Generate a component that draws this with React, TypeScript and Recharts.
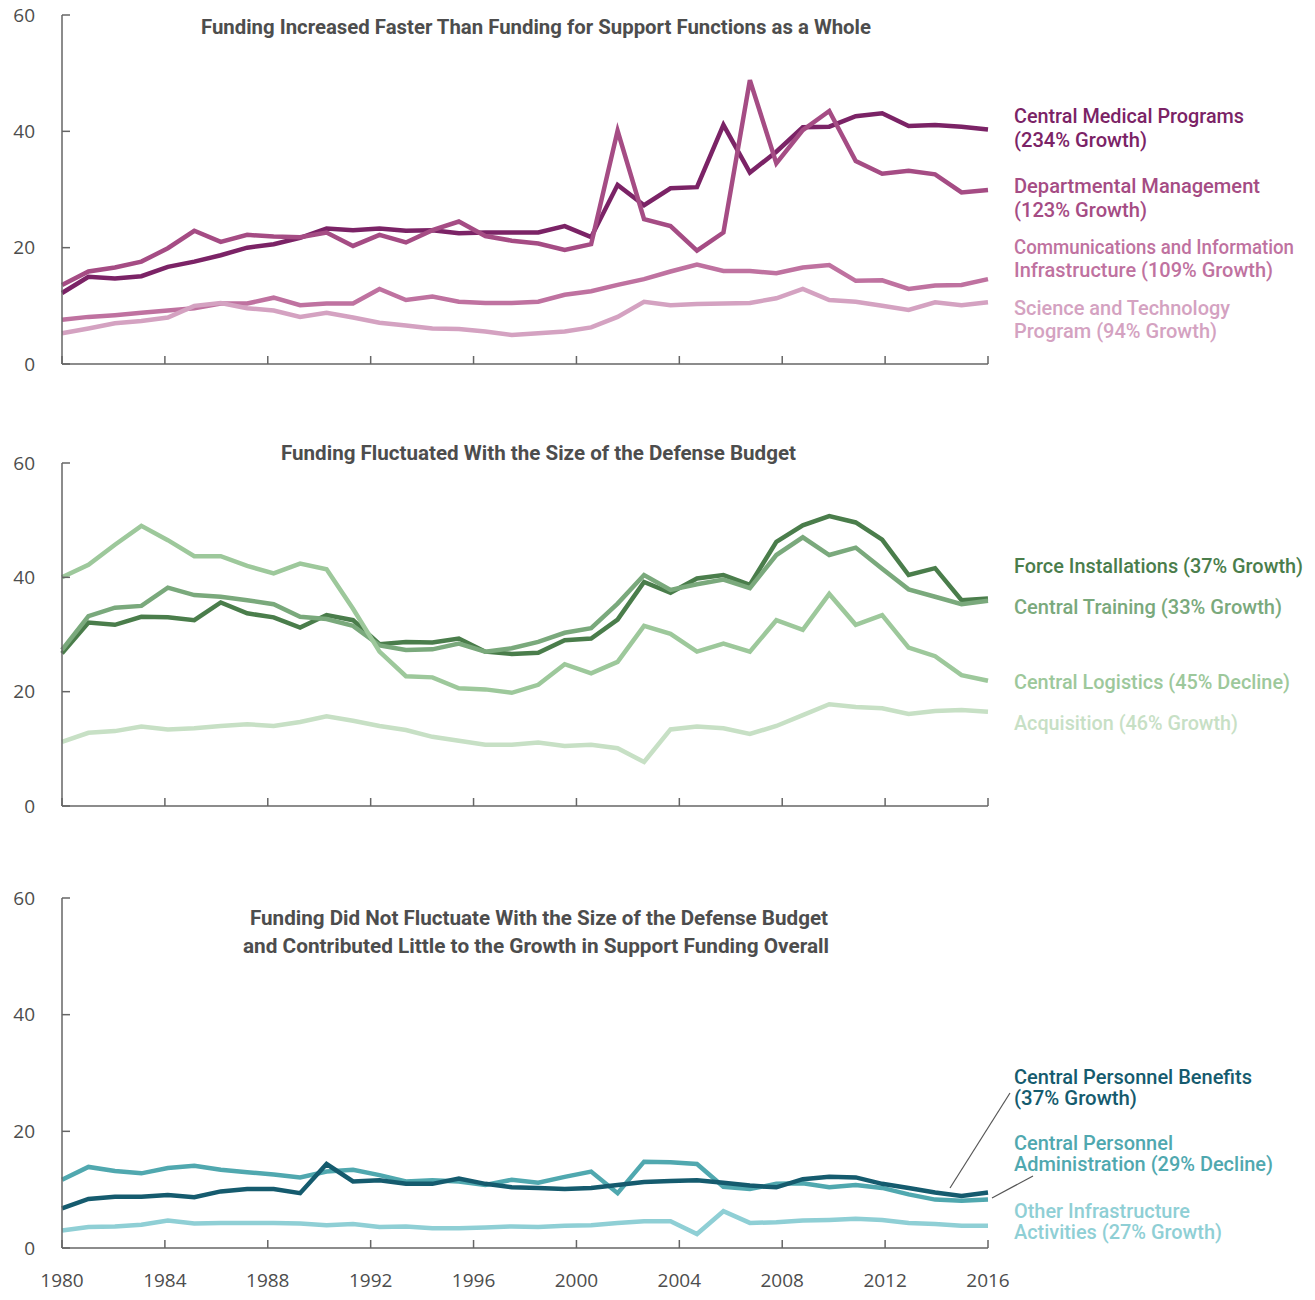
import React from "react";
import { LineChart, Line, XAxis, YAxis } from "recharts";

// 36 fiscal-year points, drawn evenly across the 1980–2016 axis
const fiscalYears = [
  1981, 1982, 1983, 1984, 1985, 1986, 1987, 1988, 1989, 1990, 1991, 1992,
  1993, 1994, 1995, 1996, 1997, 1998, 1999, 2000, 2001, 2002, 2003, 2004,
  2005, 2006, 2007, 2008, 2009, 2010, 2011, 2012, 2013, 2014, 2015, 2016,
];
const yearTicks = [1980, 1984, 1988, 1992, 1996, 2000, 2004, 2008, 2012, 2016];
const valueTicks = [0, 20, 40, 60];

// panel 1
const centralMedical = [
  12.2, 15.0, 14.7, 15.1, 16.7, 17.6, 18.7, 20.0, 20.6, 21.7,
  23.3, 23.0, 23.3, 22.9, 23.0, 22.5, 22.6, 22.6, 22.6, 23.7,
  21.8, 30.8, 27.3, 30.2, 30.4, 41.1, 32.9, 36.5, 40.7, 40.8,
  42.6, 43.1, 40.9, 41.1, 40.8, 40.3,
];
const deptManagement = [
  13.6, 15.9, 16.6, 17.6, 19.9, 22.9, 21.0, 22.2, 21.9, 21.8,
  22.6, 20.3, 22.2, 20.9, 23.0, 24.5, 22.0, 21.2, 20.7, 19.6,
  20.6, 40.1, 24.9, 23.7, 19.5, 22.6, 48.8, 34.5, 40.2, 43.5,
  34.9, 32.7, 33.2, 32.6, 29.5, 29.9,
];
const commInfo = [
  7.6, 8.1, 8.4, 8.8, 9.2, 9.6, 10.4, 10.4, 11.4, 10.1,
  10.4, 10.4, 12.9, 11.0, 11.6, 10.7, 10.5, 10.5, 10.7, 11.9,
  12.5, 13.6, 14.6, 15.9, 17.1, 16.0, 16.0, 15.6, 16.6, 17.0,
  14.3, 14.4, 12.9, 13.5, 13.6, 14.6,
];
const sciTech = [
  5.3, 6.1, 7.0, 7.4, 8.0, 10.0, 10.5, 9.6, 9.2, 8.1,
  8.8, 8.0, 7.1, 6.6, 6.1, 6.0, 5.6, 5.0, 5.3, 5.6,
  6.3, 8.1, 10.7, 10.1, 10.3, 10.4, 10.5, 11.3, 12.9, 11.0,
  10.7, 10.0, 9.3, 10.6, 10.1, 10.6,
];

// panel 2
const forceInstallations = [
  26.7, 32.1, 31.7, 33.1, 33.0, 32.5, 35.6, 33.7, 33.0, 31.2,
  33.4, 32.5, 28.3, 28.7, 28.6, 29.3, 27.0, 26.6, 26.8, 29.0,
  29.3, 32.6, 39.2, 37.3, 39.8, 40.4, 38.7, 46.2, 49.1, 50.7,
  49.6, 46.6, 40.4, 41.6, 36.0, 36.3,
];
const centralTraining = [
  27.3, 33.2, 34.7, 35.0, 38.2, 36.9, 36.6, 36.0, 35.3, 33.1,
  32.7, 31.5, 28.1, 27.3, 27.4, 28.4, 27.0, 27.6, 28.7, 30.3,
  31.1, 35.4, 40.4, 37.8, 38.8, 39.6, 38.1, 43.9, 47.0, 43.9,
  45.2, 41.5, 37.9, 36.6, 35.3, 35.9,
];
const centralLogistics = [
  40.0, 42.2, 45.7, 49.0, 46.5, 43.7, 43.7, 42.0, 40.7, 42.4,
  41.4, 34.5, 27.0, 22.7, 22.5, 20.6, 20.4, 19.8, 21.2, 24.8,
  23.2, 25.2, 31.5, 30.1, 27.0, 28.4, 27.0, 32.5, 30.8, 37.1,
  31.7, 33.4, 27.7, 26.2, 22.9, 21.9,
];
const acquisition = [
  11.2, 12.8, 13.1, 13.9, 13.4, 13.6, 14.0, 14.3, 14.0, 14.7,
  15.7, 14.9, 14.0, 13.3, 12.1, 11.4, 10.7, 10.7, 11.1, 10.5,
  10.7, 10.1, 7.7, 13.4, 13.9, 13.6, 12.6, 14.0, 15.9, 17.8,
  17.3, 17.1, 16.1, 16.6, 16.8, 16.5,
];

// panel 3
const personnelBenefits = [
  6.8, 8.4, 8.8, 8.8, 9.1, 8.7, 9.7, 10.1, 10.1, 9.4,
  14.4, 11.4, 11.6, 11.0, 11.0, 11.9, 11.0, 10.4, 10.3, 10.1,
  10.3, 10.8, 11.3, 11.5, 11.6, 11.2, 10.7, 10.4, 11.8, 12.2,
  12.1, 11.0, 10.3, 9.5, 8.9, 9.5,
];
const personnelAdmin = [
  11.7, 13.9, 13.2, 12.8, 13.7, 14.1, 13.4, 13.0, 12.6, 12.1,
  13.1, 13.4, 12.5, 11.4, 11.6, 11.4, 10.8, 11.7, 11.2, 12.2,
  13.1, 9.4, 14.8, 14.7, 14.4, 10.5, 10.1, 11.0, 11.1, 10.4,
  10.8, 10.3, 9.2, 8.3, 8.1, 8.3,
];
const otherInfra = [
  3.0, 3.6, 3.7, 4.0, 4.7, 4.2, 4.3, 4.3, 4.3, 4.2,
  3.9, 4.1, 3.6, 3.7, 3.4, 3.4, 3.5, 3.7, 3.6, 3.8,
  3.9, 4.3, 4.6, 4.6, 2.4, 6.3, 4.3, 4.4, 4.7, 4.8,
  5.0, 4.8, 4.3, 4.1, 3.8, 3.8,
];

type Series = { key: string; values: number[]; color: string };

const panel1: Series[] = [
  { key: "centralMedical", values: centralMedical, color: "#7b2366" },
  { key: "deptManagement", values: deptManagement, color: "#a54c84" },
  { key: "commInfo", values: commInfo, color: "#bf72a0" },
  { key: "sciTech", values: sciTech, color: "#d4a2c1" },
];
const panel2: Series[] = [
  { key: "forceInstallations", values: forceInstallations, color: "#4a7d4b" },
  { key: "centralTraining", values: centralTraining, color: "#7aa97c" },
  { key: "centralLogistics", values: centralLogistics, color: "#9dc89b" },
  { key: "acquisition", values: acquisition, color: "#c7e0c5" },
];
const panel3: Series[] = [
  { key: "otherInfra", values: otherInfra, color: "#8fcfd5" },
  { key: "personnelAdmin", values: personnelAdmin, color: "#50a8af" },
  { key: "personnelBenefits", values: personnelBenefits, color: "#155b6e" },
];

// ends of the calendar axis, fed to an empty helper line so the axis has a domain
const axisEnds = [{ year: 1980 }, { year: 2016 }];

const AXIS = "#666666";
const TEXT = "#4d4d4d";
const tickStyle = { fill: TEXT, fontSize: 19, fontFamily: "'Open Sans', sans-serif" };

function buildRows(series: Series[]) {
  return fiscalYears.map((fy, i) => {
    const row: Record<string, number> = { fy };
    series.forEach((s) => {
      row[s.key] = s.values[i];
    });
    return row;
  });
}

type PanelProps = {
  series: Series[];
  top: number;
  height: number;
  marginTop: number;
  marginBottom: number;
  yearLabels?: boolean;
};

function Panel({ series, top, height, marginTop, marginBottom, yearLabels }: PanelProps) {
  return (
    <div style={{ position: "absolute", left: 0, top }}>
      <LineChart
        width={1315}
        height={height}
        data={buildRows(series)}
        margin={{ top: marginTop, right: 327, bottom: marginBottom, left: 0 }}
      >
        <XAxis xAxisId="fy" dataKey="fy" hide height={0} />
        <XAxis
          xAxisId="year"
          dataKey="year"
          type="number"
          domain={[1980, 2016]}
          allowDataOverflow
          ticks={yearTicks}
          interval={0}
          height={30}
          axisLine={{ stroke: AXIS, strokeWidth: 1.5 }}
          tickLine={{ stroke: AXIS, strokeWidth: 1.5 }}
          tickSize={-8}
          tickMargin={34}
          tick={tickStyle}
          tickFormatter={(v: number) => (yearLabels ? String(v) : "")}
        />
        <YAxis
          type="number"
          domain={[0, 60]}
          ticks={valueTicks}
          interval={0}
          width={62}
          axisLine={{ stroke: AXIS, strokeWidth: 1.5 }}
          tickLine={{ stroke: AXIS, strokeWidth: 1.5 }}
          tickSize={-8}
          tickMargin={35}
          tick={tickStyle}
        />
        <Line
          xAxisId="year"
          data={axisEnds}
          dataKey="none"
          stroke="none"
          dot={false}
          activeDot={false}
          legendType="none"
          isAnimationActive={false}
        />
        {series.map((s) => (
          <Line
            key={s.key}
            xAxisId="fy"
            type="linear"
            dataKey={s.key}
            stroke={s.color}
            strokeWidth={4.5}
            dot={false}
            activeDot={false}
            isAnimationActive={false}
          />
        ))}
      </LineChart>
    </div>
  );
}

const titles = [
  { text: "Funding Increased Faster Than Funding for Support Functions as a Whole", x: 201, y: 34, w: 670 },
  { text: "Funding Fluctuated With the Size of the Defense Budget", x: 281, y: 460, w: 515 },
  { text: "Funding Did Not Fluctuate With the Size of the Defense Budget", x: 250, y: 925, w: 578 },
  { text: "and Contributed Little to the Growth in Support Funding Overall", x: 243, y: 953, w: 586 },
];

const labels = [
  { text: "Central Medical Programs", y: 123, w: 230, color: "#7b2366" },
  { text: "(234% Growth)", y: 146.5, w: 133, color: "#7b2366" },
  { text: "Departmental Management", y: 193, w: 246, color: "#a54c84" },
  { text: "(123% Growth)", y: 216.5, w: 133, color: "#a54c84" },
  { text: "Communications and Information", y: 254, w: 280, color: "#bf72a0" },
  { text: "Infrastructure (109% Growth)", y: 277, w: 259, color: "#bf72a0" },
  { text: "Science and Technology", y: 314.5, w: 216, color: "#d4a2c1" },
  { text: "Program (94% Growth)", y: 337.5, w: 203, color: "#d4a2c1" },
  { text: "Force Installations (37% Growth)", y: 573, w: 289, color: "#4a7d4b" },
  { text: "Central Training (33% Growth)", y: 613.5, w: 268, color: "#7aa97c" },
  { text: "Central Logistics (45% Decline)", y: 689, w: 276, color: "#9dc89b" },
  { text: "Acquisition (46% Growth)", y: 730, w: 224, color: "#c7e0c5" },
  { text: "Central Personnel Benefits", y: 1084, w: 238, color: "#155b6e" },
  { text: "(37% Growth)", y: 1105, w: 123, color: "#155b6e" },
  { text: "Central Personnel", y: 1149.5, w: 159, color: "#50a8af" },
  { text: "Administration (29% Decline)", y: 1170.5, w: 259, color: "#50a8af" },
  { text: "Other Infrastructure", y: 1217.5, w: 176, color: "#8fcfd5" },
  { text: "Activities (27% Growth)", y: 1238.5, w: 208, color: "#8fcfd5" },
];

export default function App() {
  return (
    <div style={{ position: "absolute", left: 0, top: 0, width: 1315, height: 1300, background: "#fff" }}>
      <Panel series={panel1} top={0} height={400} marginTop={15} marginBottom={6} />
      <Panel series={panel2} top={440} height={400} marginTop={23} marginBottom={4} />
      <Panel series={panel3} top={880} height={420} marginTop={18} marginBottom={22} yearLabels />
      <svg
        width={1315}
        height={1300}
        style={{ position: "absolute", left: 0, top: 0, pointerEvents: "none" }}
      >
        {titles.map((t) => (
          <text
            key={t.text}
            x={t.x}
            y={t.y}
            textLength={t.w}
            lengthAdjust="spacingAndGlyphs"
            fill={TEXT}
            fontSize={20}
            fontWeight={700}
            fontFamily="Roboto, sans-serif"
          >
            {t.text}
          </text>
        ))}
        {labels.map((l) => (
          <text
            key={l.text + l.y}
            x={1014}
            y={l.y}
            textLength={l.w}
            lengthAdjust="spacingAndGlyphs"
            fill={l.color}
            fontSize={20}
            fontWeight={500}
            fontFamily="Roboto, sans-serif"
          >
            {l.text}
          </text>
        ))}
        <line x1={950} y1={1188} x2={1010} y2={1093} stroke="#555" strokeWidth={1.2} />
        <line x1={992} y1={1198} x2={1033} y2={1176} stroke="#555" strokeWidth={1.2} />
      </svg>
    </div>
  );
}
